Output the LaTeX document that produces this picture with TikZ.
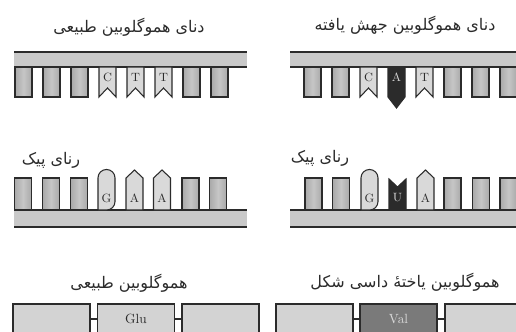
\documentclass[tikz,border=0pt]{standalone}
\usepackage{fontspec}
\newfontfamily\persian[Script=Arabic]{DejaVu Sans}
\TeXXeTstate=1
\usepackage{tikz}
\definecolor{ink}{HTML}{2B2B2B}
\definecolor{barfill}{HTML}{C9C9C9}
\definecolor{basefill}{HTML}{A9A9A9}
\definecolor{baselight}{HTML}{C6C6C6}
\definecolor{palefill}{HTML}{D9D9D9}
\definecolor{boxfill}{HTML}{D3D3D3}
\definecolor{valfill}{HTML}{7A7A7A}

\begin{document}
\begin{tikzpicture}[
  x=0.75pt, y=-0.75pt,
  title/.style={font=\persian\fontsize{12}{13}\selectfont, text=ink, inner sep=0pt},
  letter/.style={font=\fontsize{9}{9}\selectfont, text=ink, inner sep=0pt},
  edge/.style={draw=ink, line width=0.9pt},
  base/.style={draw=ink, line width=0.8pt,
    left color=basefill, right color=basefill, middle color=baselight},
  pale/.style={draw=ink, line width=0.8pt, fill=palefill},
  dark/.style={draw=ink, line width=0.8pt, fill=ink},
  residue/.style={draw=ink, line width=1pt, fill=boxfill, inner sep=0pt,
    minimum width=57.75pt, minimum height=22.5pt,
    font=\fontsize{10}{10}\selectfont, text=ink},
  link/.style={draw=ink, line width=0.9pt}
]
\useasboundingbox (0,0) rectangle (516,331);
\clip (0,0) rectangle (516,331);

% --- DNA ---
\node[title] (dnaN) at (129,27) {\beginR دنای هموگلوبین طبیعی\endR};
\node[title] (dnaM) at (405,25) {\beginR دنای هموگلوبین جهش یافته\endR};

\foreach \xa/\xb in {14/247, 290/520} {
  \fill[barfill] (\xa,52) rectangle (\xb,67);
  \draw[edge] (\xa,52) -- (\xb,52) (\xa,67) -- (\xb,67);
}
\foreach \c in {23.5,51.5,79.5,191.5,219.5,312.5,340.5,452.5,480.5,508.5}
  \draw[base] (\c-8.5,67) rectangle (\c+8.5,97);
\foreach \c/\l [count=\k] in {107.5/C, 135.5/T, 163.5/T, 368.5/C, 424.5/T} {
  \draw[pale] (\c-8.5,67) -- (\c-8.5,97) -- (\c,88) -- (\c+8.5,97)
    -- (\c+8.5,67) -- cycle;
  \node[letter] (dna\k) at (\c,77) {\l};
}
\draw[dark] (388,67) -- (388,97) -- (396.5,108) -- (405,97) -- (405,67) -- cycle;
\node[letter, text=palefill] (dnaA) at (396.5,77) {A};

% --- mRNA ---
\node[title] (rnaL) at (51,160) {\beginR رنای پیک\endR};
\node[title] (rnaR) at (320,158) {\beginR رنای پیک\endR};

\foreach \xa/\xb in {14/247, 290/520} {
  \fill[barfill] (\xa,210) rectangle (\xb,227);
  \draw[edge] (\xa,210) -- (\xb,210) (\xa,227) -- (\xb,227);
}
\foreach \c in {23,51,79,190.5,218,313.5,341,452.5,481,508.5}
  \draw[base] (\c-8.5,178) rectangle (\c+8.5,210);
\foreach \c/\n in {106.5/G1, 369.5/G2} {
  \draw[pale] (\c-8.5,210) {[rounded corners=6.3pt] -- (\c-8.5,169.5)
    -- (\c+8.5,169.5) -- (\c+8.5,210)} -- cycle;
  \node[letter] (rna\n) at (\c,198) {G};
}
\foreach \c/\n in {134.5/A1, 162/A2, 425.5/A3} {
  \draw[pale] (\c-8.5,210) -- (\c-8.5,178) -- (\c,170) -- (\c+8.5,178)
    -- (\c+8.5,210) -- cycle;
  \node[letter] (rna\n) at (\c,198) {A};
}
\draw[dark] (389,210) -- (389,179) -- (397.5,187) -- (406,179) -- (406,210) -- cycle;
\node[letter, text=palefill] (rnaU) at (397.5,198) {U};

% --- protein ---
\node[title] (protN) at (129,283) {\beginR هموگلوبین طبیعی\endR};
\node[title] (protS) at (405,282) {\beginR هموگلوبین یاختهٔ داسی شکل\endR};

\node[residue] (n1) at (51.5,319) {};
\node[residue] (n2) at (136,319) {Glu};
\node[residue] (n3) at (220.5,319) {};
\node[residue] (s1) at (314.5,319) {};
\node[residue, fill=valfill, text=palefill] (s2) at (398.5,319) {Val};
\node[residue] (s3) at (483.5,319) {};
\draw[link] (n1) -- (n2) (n2) -- (n3);
\draw[link] (s1) -- (s2) (s2) -- (s3);
\end{tikzpicture}
\end{document}
